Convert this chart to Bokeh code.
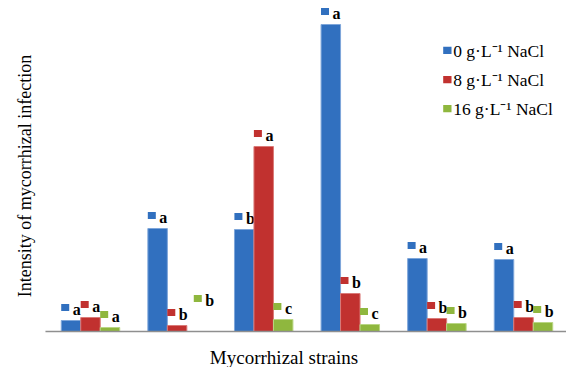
import math
from bokeh.plotting import figure
from bokeh.models import Range1d, Label, BoxAnnotation, ColumnDataSource
from bokeh.core.properties import value
from bokeh.embed import file_html
from bokeh.resources import INLINE

# ---- data ----
series_names = ["0 g·L⁻¹ NaCl", "8 g·L⁻¹ NaCl", "16 g·L⁻¹ NaCl"]
blue_vals = [1.1, 10.3, 10.2, 30.7, 7.3, 7.2]
red_vals = [1.4, 0.6, 18.5, 3.8, 1.3, 1.4]
green_vals = [0.4, 0.0, 1.2, 0.7, 0.8, 0.9]
blue_letters = ["a", "a", "b", "a", "a", "a"]
red_letters = ["a", "b", "a", "b", "b", "b"]
green_letters = ["a", "b", "c", "c", "b", "b"]
x_title = "Mycorrhizal strains"
y_title = "Intensity of mycorrhizal infection"

# ---- styles / layout ----
fills = ["#3170BF", "#C1312F", "#8FB73E"]
edges = ["#7EA6DA", "#DA7A78", "#B9D684"]
SERIF = "Liberation Serif"
W, H = 566, 367
BAR_W = 0.225
PX_PER_GROUP = 86.6
PX_PER_UNIT = 10.0
FIRST_CENTER_PX = 90.0
BASE_PX = 331.0

x0 = -FIRST_CENTER_PX / PX_PER_GROUP
x1 = (W - FIRST_CENTER_PX) / PX_PER_GROUP
y0 = -(H - BASE_PX) / PX_PER_UNIT
y1 = BASE_PX / PX_PER_UNIT

p = figure(width=W, height=H, output_backend="svg", toolbar_location=None,
           x_range=Range1d(x0, x1), y_range=Range1d(y0, y1),
           min_border=0)
p.background_fill_color = "white"
p.border_fill_color = "white"
p.outline_line_color = None
p.xgrid.visible = False
p.ygrid.visible = False
p.xaxis.visible = False
p.yaxis.visible = False

all_vals = [blue_vals, red_vals, green_vals]
all_letters = [blue_letters, red_letters, green_letters]
offsets = [-BAR_W, 0.0, BAR_W]

# one label (green, strain 2) sits higher/right of its bar in the original
label_extra_px = {(2, 1): (7, 20)}
LIFT_PX = 13

for s, (vals, letters) in enumerate(zip(all_vals, all_letters)):
    xs = [i + offsets[s] for i in range(len(vals))]
    src = ColumnDataSource(dict(x=xs, top=vals))
    p.vbar(x="x", top="top", width=BAR_W, source=src,
           fill_color=fills[s], line_color=edges[s], line_width=1)
    sq_x, sq_y, tx_x, tx_y = [], [], [], []
    for i, v in enumerate(vals):
        dx, dy = label_extra_px.get((s, i), (0, 0))
        y = v + (LIFT_PX + dy) / PX_PER_UNIT
        sq_x.append(xs[i] + (-5.8 + dx) / PX_PER_GROUP)
        tx_x.append(xs[i] + (1.7 + dx) / PX_PER_GROUP)
        sq_y.append(y)
        tx_y.append(y)
    p.rect(x=sq_x, y=sq_y, width=8, height=7, width_units="screen",
           height_units="screen", fill_color=fills[s], line_color=None)
    p.text(x=tx_x, y=tx_y, text=letters, x_offset=0, y_offset=1.5,
           text_font=value(SERIF), text_font_style="bold",
           text_font_size="16px", text_color="black",
           text_align="left", text_baseline="alphabetic")

# category axis baseline
n = len(blue_vals)
p.segment(x0=[-0.52], x1=[n - 0.5], y0=[0], y1=[0],
          line_color="#8f8f8f", line_width=1.5)

# axis titles
p.add_layout(Label(x=24, y=H - 175.5, x_units="screen", y_units="screen",
                   text=y_title, angle=math.pi / 2, text_align="center",
                   text_baseline="middle", text_font=SERIF,
                   text_font_size="18px", text_color="black"))
p.add_layout(Label(x=283.5, y=H - 357, x_units="screen", y_units="screen",
                   text=x_title, text_align="center",
                   text_baseline="middle", text_font=SERIF,
                   text_font_size="19px", text_color="black"))

# legend
row_mid = [50, 79.3, 108.3]   # text centres, px from top
for s, name in enumerate(series_names):
    m = H - row_mid[s]
    p.add_layout(BoxAnnotation(left=442.7, right=451, bottom=m - 3.5, top=m + 3.8,
                               left_units="screen", right_units="screen",
                               bottom_units="screen", top_units="screen",
                               fill_color=fills[s], fill_alpha=1,
                               line_color=None))
    p.add_layout(Label(x=452.7, y=m, x_units="screen", y_units="screen",
                       text=name, text_align="left",
                       text_baseline="middle", text_font=SERIF,
                       text_font_size="17.5px", text_color="black"))

open("out.html", "w").write(file_html(p, INLINE))
